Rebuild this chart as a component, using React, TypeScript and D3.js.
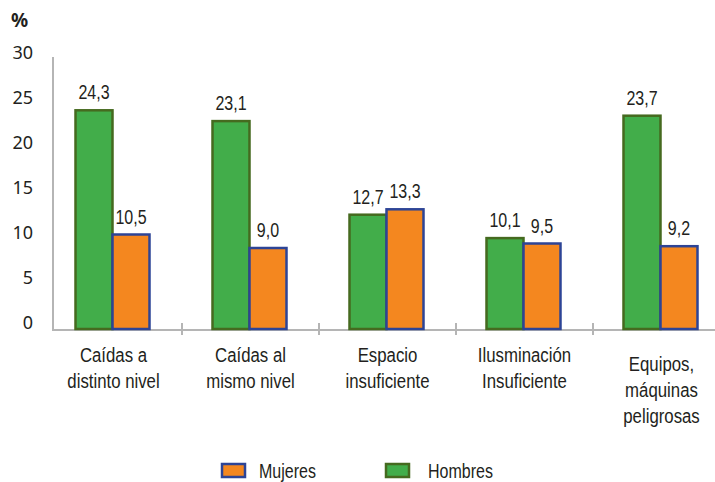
import React, { useEffect, useRef } from 'react';
import * as d3 from 'd3';

const categories = [
  ['Caídas a', 'distinto nivel'],
  ['Caídas al', 'mismo nivel'],
  ['Espacio', 'insuficiente'],
  ['Ilusminación', 'Insuficiente'],
  ['Equipos,', 'máquinas', 'peligrosas'],
];
const hombres = [24.3, 23.1, 12.7, 10.1, 23.7];
const mujeres = [10.5, 9.0, 13.3, 9.5, 9.2];
const yTicks = [0, 5, 10, 15, 20, 25, 30];

// no condensed face installed, so squeeze a regular sans horizontally
const NARROW = '"Liberation Sans", Arial, sans-serif';
const SQUEEZE = 0.8;

export default function App() {
  const ref = useRef<SVGSVGElement | null>(null);

  useEffect(() => {
    if (!ref.current) return;
    const svg = d3.select(ref.current);
    svg.selectAll('*').remove();

    const width = 715;
    const height = 482;
    const x0 = 53;
    const baseY = 329;

    const keys = categories.map((_, i) => String(i));
    const x = d3.scaleBand().domain(keys).range([45, 730]).padding(0);
    const series = ['Hombres', 'Mujeres'];
    const xs = d3.scaleBand().domain(series).range([-38, 36]).padding(0);
    const y = d3.scaleLinear().domain([0, 30]).range([baseY, 59]);

    const fill: Record<string, string> = { Hombres: '#42ad4a', Mujeres: '#f4871f' };
    const stroke: Record<string, string> = { Hombres: '#456a1f', Mujeres: '#2d4496' };

    svg.attr('width', width).attr('height', height).style('display', 'block');
    const g = svg.append('g');

    // percent sign
    g.append('text')
      .attr('x', 11).attr('y', 27)
      .attr('font-family', '"Noto Sans", sans-serif')
      .attr('font-size', 19).attr('font-weight', 'bold')
      .attr('fill', '#231f20')
      .text('%');

    // y tick labels (no grid)
    g.selectAll('.ylab')
      .data(yTicks)
      .join('text')
      .attr('class', 'ylab')
      .attr('x', 33)
      .attr('y', d => y(d))
      .attr('text-anchor', 'end')
      .attr('font-family', '"Noto Sans", sans-serif')
      .attr('font-size', 18)
      .attr('fill', '#231f20')
      .text(d => String(d));

    // axes
    g.append('line')
      .attr('x1', x0).attr('x2', x0)
      .attr('y1', 57).attr('y2', baseY + 2)
      .attr('stroke', '#b5b5b5').attr('stroke-width', 2);
    g.append('line')
      .attr('x1', x0 - 1).attr('x2', width)
      .attr('y1', baseY + 1).attr('y2', baseY + 1)
      .attr('stroke', '#b5b5b5').attr('stroke-width', 2);

    // ticks between groups
    g.selectAll('.tick')
      .data(keys.slice(1))
      .join('line')
      .attr('class', 'tick')
      .attr('x1', d => x(d)!).attr('x2', d => x(d)!)
      .attr('y1', baseY - 6).attr('y2', baseY + 6)
      .attr('stroke', '#b5b5b5').attr('stroke-width', 2);

    const rows = keys.map((k, i) => ({ k, i, Hombres: hombres[i], Mujeres: mujeres[i] }));

    const grp = g.selectAll('.grp')
      .data(rows)
      .join('g')
      .attr('class', 'grp')
      .attr('transform', d => `translate(${x(d.k)! + x.bandwidth() / 2},0)`);

    const bars = grp.selectAll('g.bar')
      .data(d => series.map(s => ({ s, v: (d as any)[s] as number })))
      .join('g')
      .attr('class', 'bar');

    bars.append('rect')
      .attr('x', d => xs(d.s)!)
      .attr('y', d => y(d.v))
      .attr('width', xs.bandwidth())
      .attr('height', d => baseY - y(d.v))
      .attr('fill', d => fill[d.s])
      .attr('stroke', d => stroke[d.s])
      .attr('stroke-width', 2.5);

    bars.append('text')
      .attr('transform', d => `translate(${xs(d.s)! + xs.bandwidth() / 2},${y(d.v) - 11}) scale(${SQUEEZE},1)`)
      .attr('text-anchor', 'middle')
      .attr('font-family', NARROW)
      .attr('font-size', 20)
      .attr('fill', '#231f20')
      .text(d => d3.format('.1f')(d.v).replace('.', ','));

    // category labels
    grp.append('text')
      .attr('text-anchor', 'middle')
      .attr('font-family', NARROW)
      .attr('font-size', 21)
      .attr('fill', '#231f20')
      .attr('transform', d => `translate(0,${categories[d.i].length > 2 ? 371 : 362}) scale(${SQUEEZE},1)`)
      .selectAll('tspan')
      .data(d => categories[d.i])
      .join('tspan')
      .attr('x', 0)
      .attr('dy', (_, j) => (j === 0 ? 0 : 26))
      .text(d => d);

    // legend
    const legend = [
      { s: 'Mujeres', x: 222 },
      { s: 'Hombres', x: 386 },
    ];
    const lg = g.selectAll('.lg')
      .data(legend)
      .join('g')
      .attr('class', 'lg')
      .attr('transform', d => `translate(${d.x},464)`);
    lg.append('rect')
      .attr('width', 23).attr('height', 13)
      .attr('fill', d => fill[d.s])
      .attr('stroke', d => stroke[d.s])
      .attr('stroke-width', 2.5);
    lg.append('text')
      .attr('transform', d => `translate(${d.s === 'Mujeres' ? 37 : 42},14) scale(${SQUEEZE},1)`)
      .attr('font-family', NARROW)
      .attr('font-size', 20)
      .attr('fill', '#231f20')
      .text(d => d.s);
  }, []);

  return <svg ref={ref} style={{ position: 'absolute', left: 0, top: 0 }} />;
}
